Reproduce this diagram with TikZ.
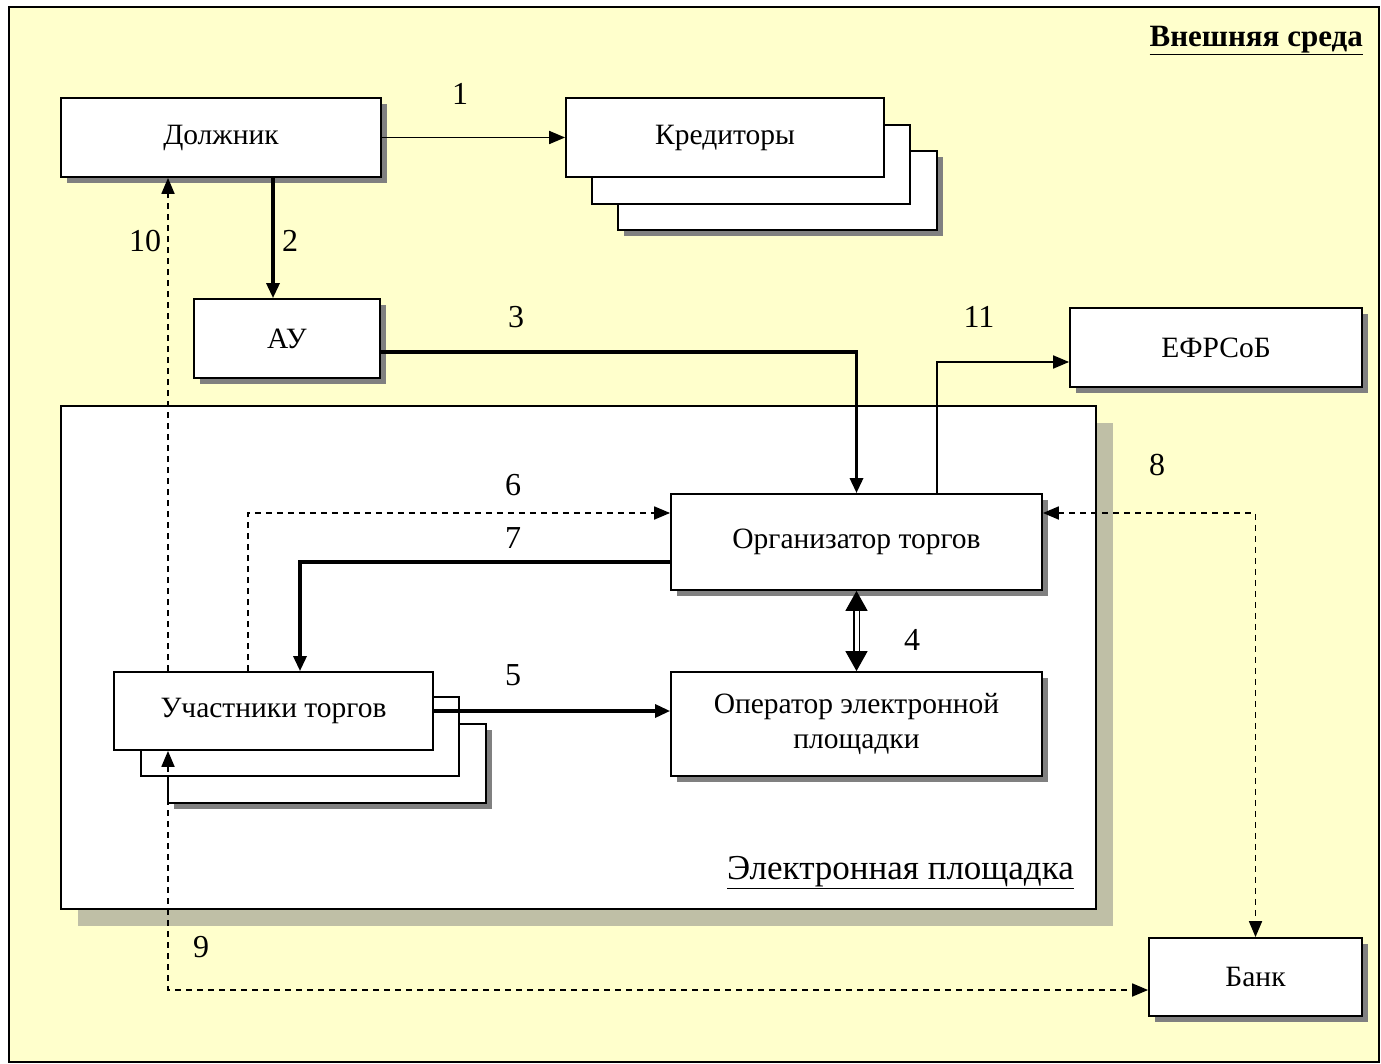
\documentclass[tikz,border=0pt]{standalone}
\usepackage{fontspec}
\setmainfont{Liberation Serif}
\usetikzlibrary{arrows.meta,shadows}
\definecolor{bgyel}{HTML}{FFFFCC}
\definecolor{platshad}{HTML}{BFBFA6}
\tikzset{
  box/.style={draw, line width=1.8pt, fill=white, inner sep=0pt, align=center,
    font=\fontsize{29.5}{35}\selectfont},
  shad/.style={drop shadow={shadow xshift=6pt, shadow yshift=-6pt, fill=black!50, opacity=1}},
  thinarr/.style={line width=1.8pt, -{Triangle[length=16pt,width=13pt]}},
  thickarr/.style={line width=3.2pt, -{Triangle[length=15pt,width=13pt]}},
  dasharr/.style={line width=1.8pt, dash pattern=on 6pt off 5pt, -{Triangle[length=16pt,width=13pt]}},
  dasharrb/.style={line width=1.8pt, dash pattern=on 6pt off 5pt, {Triangle[length=16pt,width=13pt]}-{Triangle[length=16pt,width=13pt]}},
  dblarr/.style={double, double distance=4pt, line width=1.5pt, {Triangle[length=20pt,width=22pt]}-{Triangle[length=20pt,width=22pt]}},
  num/.style={font=\fontsize{32}{34}\selectfont, inner sep=0pt},
}
\begin{document}
\begin{tikzpicture}[x=1pt,y=-1pt]
\useasboundingbox (0,0) rectangle (1381,1064);
\fill[white] (0,0) rectangle (1381,1064);
\draw[fill=bgyel, line width=1.8pt] (9,7) rectangle (1379,1062);
% helper coordinates
\coordinate (v168) at (168,0);
\coordinate (v248) at (248,0);
\coordinate (v273) at (273,0);
\coordinate (v300) at (300,0);
\coordinate (v937) at (937,0);
\coordinate (h352) at (0,352);
\coordinate (h362) at (0,362);
\coordinate (h513) at (0,513);
\coordinate (h562) at (0,562);
\coordinate (h990) at (0,990);
% external label
\node[anchor=south east, inner sep=0pt, font=\fontsize{31}{34}\selectfont\bfseries] (ext) at (1363,55) {\underline{Внешняя среда}};
% platform
\fill[platshad] (78,423) rectangle (1113,926);
\node[draw, line width=1.8pt, fill=white, minimum width=1035pt, minimum height=503pt, inner sep=0pt] (plat) at (578.5,657.5) {};
\node[anchor=south east, inner sep=0pt, font=\fontsize{35}{38}\selectfont] (platlbl) at (1074,889) {\underline{Электронная площадка}};
% boxes
\node[box, shad, minimum width=320pt, minimum height=79pt] (dolzh) at (221,137.5) {\raisebox{-2pt}{Должник}};
\node[box, shad, minimum width=319pt, minimum height=79pt] (cred3) at (777.5,190.5) {};
\node[box, minimum width=318pt, minimum height=79pt] (cred2) at (751,164.5) {};
\node[box, minimum width=318pt, minimum height=79pt] (cred) at (725,137.5) {\raisebox{-2pt}{Кредиторы}};
\node[box, shad, minimum width=186pt, minimum height=79pt] (au) at (287,338.5) {АУ};
\node[box, shad, minimum width=292pt, minimum height=79pt] (efr) at (1216,347.5) {ЕФРСоБ};
\node[box, shad, minimum width=371pt, minimum height=96pt] (org) at (856.5,542) {\raisebox{7pt}{Организатор торгов}};
\node[box, shad, minimum width=371pt, minimum height=104pt] (oper) at (856.5,724) {Оператор электронной\\площадки};
\node[box, shad, minimum width=318pt, minimum height=79pt] (uch3) at (327,763.5) {};
\node[box, minimum width=318pt, minimum height=79pt] (uch2) at (300,736.5) {};
\node[box, minimum width=319pt, minimum height=78pt] (uch) at (273.5,711) {\raisebox{-1pt}{Участники торгов}};
\node[box, shad, minimum width=213pt, minimum height=78pt] (bank) at (1255.5,977) {Банк};
% connectors
\draw[thinarr] (dolzh.east) -- (cred.west);
\draw[thickarr] (dolzh.south -| v273) -- (au.north -| v273);
\draw[thickarr] (au.east |- h352) -| (org.north);
\draw[thinarr] (org.north -| v937) |- (efr.west |- h362);
\draw[dasharr] (uch.north -| v168) -- (dolzh.south -| v168);
\draw[dasharr] (uch.north -| v248) |- (org.west |- h513);
\draw[thickarr] (org.west |- h562) -| (uch.north -| v300);
\draw[dblarr] (org.south) -- (oper.north);
\draw[thickarr] (uch.east) -- (oper.west |- uch.east);
\draw[dasharrb] (org.east |- h513) -| (bank.north);
\draw[dasharrb] (uch.south -| v168) |- (bank.west |- h990);
% labels
\node[num] (n1) at (460,94) {1};
\node[num] (n2) at (290,241) {2};
\node[num] (n3) at (516,317) {3};
\node[num] (n4) at (912,640) {4};
\node[num] (n5) at (513,675) {5};
\node[num] (n6) at (513,485) {6};
\node[num] (n7) at (513,538) {7};
\node[num] (n8) at (1157,465) {8};
\node[num] (n9) at (201,947) {9};
\node[num] (n10) at (145,241) {10};
\node[num] (n11) at (979,317) {11};
\end{tikzpicture}
\end{document}
